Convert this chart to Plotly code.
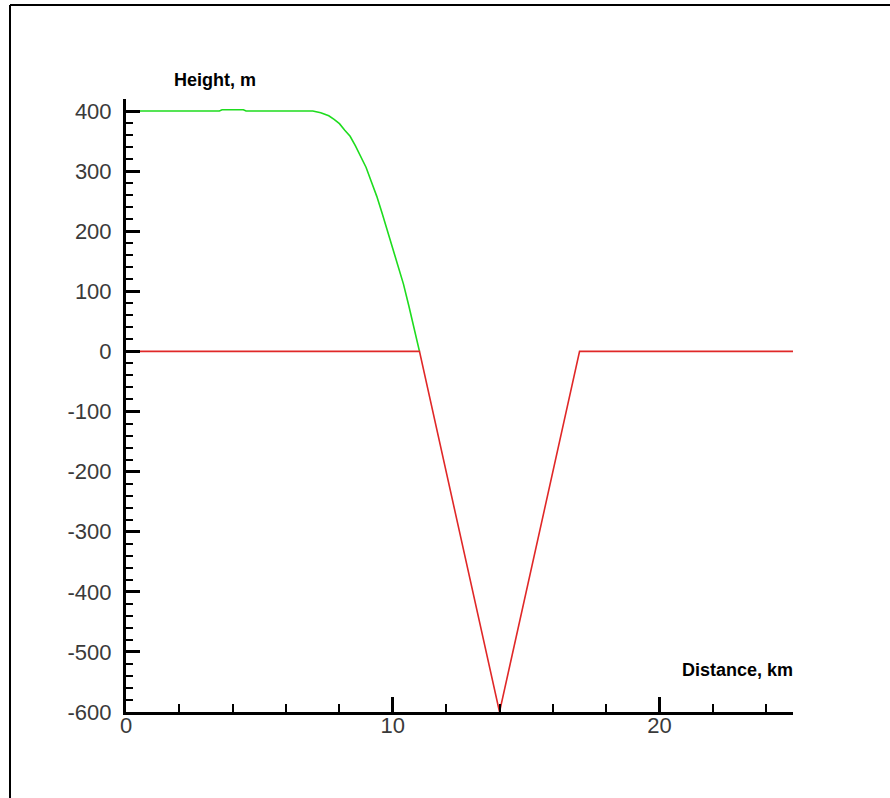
import plotly.graph_objects as go

# Data
green_x = [0, 3.5, 3.6, 4.4, 4.5, 7.0, 7.3, 7.6, 7.8, 8.0, 8.2, 8.4, 8.6, 8.8, 9.0,
           9.2, 9.4, 9.6, 9.8, 10.0, 10.2, 10.4, 10.6, 10.8, 11.0]
green_y = [400, 400, 402, 402, 400, 400, 397, 392, 386, 379, 368, 358, 342, 325, 306,
           282, 258, 230, 200, 170, 141, 112, 76, 36, 0]

red_x = [0, 11, 14, 17, 25]
red_y = [0, 0, -600, 0, 0]

x_ticks = [0, 10, 20]
y_ticks = [-600, -500, -400, -300, -200, -100, 0, 100, 200, 300, 400]

fig = go.Figure()
fig.add_trace(go.Scatter(x=green_x, y=green_y, mode="lines",
                         line=dict(color="#1edc1e", width=1.6), hoverinfo="skip"))
fig.add_trace(go.Scatter(x=red_x, y=red_y, mode="lines",
                         line=dict(color="#e02828", width=1.6), hoverinfo="skip"))

tickfont = dict(family="Liberation Sans, Arial, sans-serif", size=22, color="#3a3a3a")

fig.update_layout(
    width=890, height=798,
    margin=dict(l=126, r=97, t=99, b=86),
    paper_bgcolor="white", plot_bgcolor="white",
    showlegend=False,
    xaxis=dict(range=[0, 25], tickvals=x_ticks, ticktext=[str(v) for v in x_ticks],
               ticks="inside", ticklen=15, tickwidth=2.5,
               tickcolor="black", showline=True, linewidth=3, linecolor="black",
               showgrid=False, zeroline=False, tickfont=tickfont, ticklabelstandoff=-8,
               minor=dict(dtick=2, tick0=0, ticks="inside", ticklen=8, tickwidth=1.5,
                          tickcolor="black", showgrid=False)),
    yaxis=dict(range=[-600, 420], tickvals=y_ticks, ticktext=[str(v) for v in y_ticks],
               ticks="inside", ticklen=14, tickwidth=2.5,
               tickcolor="black", showline=True, linewidth=3, linecolor="black",
               showgrid=False, zeroline=False, tickfont=tickfont, ticklabelstandoff=7,
               minor=dict(dtick=20, tick0=0, ticks="inside", ticklen=7, tickwidth=1.5,
                          tickcolor="black", showgrid=False)),
    annotations=[
        dict(text="<b>Height, m</b>", xref="paper", yref="paper", x=0.1334, y=1.031,
             xanchor="center", yanchor="middle", showarrow=False,
             font=dict(family="Liberation Sans, Arial, sans-serif", size=18, color="black")),
        dict(text="<b>Distance, km</b>", xref="paper", yref="paper", x=0.9175, y=0.0685,
             xanchor="center", yanchor="middle", showarrow=False,
             font=dict(family="Liberation Sans, Arial, sans-serif", size=18, color="black")),
    ],
    shapes=[
        dict(type="line", xref="paper", yref="paper", x0=(10 - 126) / 667, x1=1.2,
             y0=(712 - 5) / 613, y1=(712 - 5) / 613, line=dict(color="black", width=2)),
        dict(type="line", xref="paper", yref="paper", x0=(10 - 126) / 667, x1=(10 - 126) / 667,
             y0=(712 - 5) / 613, y1=-0.2, line=dict(color="black", width=2)),
    ],
)

fig.write_html("out.html", config={"displayModeBar": False},
               post_script="document.body.style.margin='0px';document.body.style.overflow='hidden';")
